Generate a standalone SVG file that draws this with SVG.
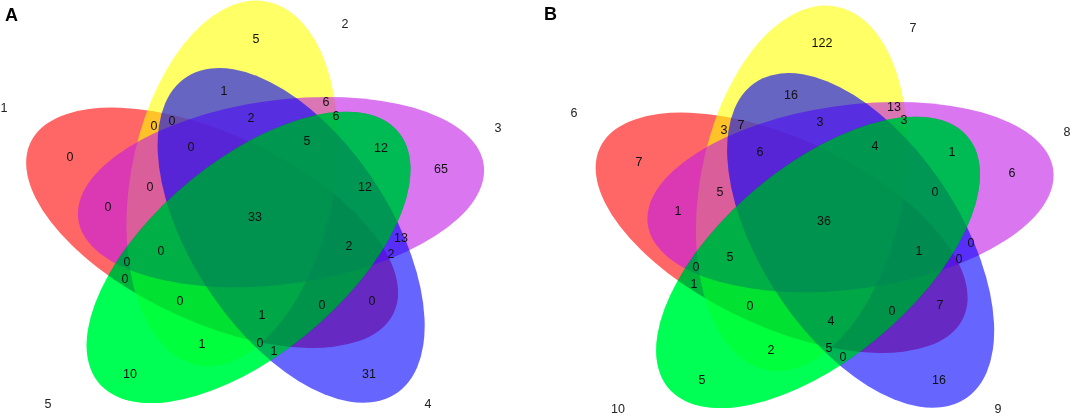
<svg xmlns="http://www.w3.org/2000/svg" width="1072" height="416" viewBox="0 0 1072 416">
<defs>
 <ellipse id="e" rx="205" ry="102"/>
</defs>
<style>
.s1{fill:#ff0000;fill-opacity:.6}
.s2{fill:#ffff00;fill-opacity:.6}
.s3{fill:#c11be6;fill-opacity:.6}
.s4{fill:#0000ff;fill-opacity:.6}
.s5m{fill:#00ff55;mix-blend-mode:multiply}
.s5{fill:#00ff55;fill-opacity:.5}
text{font-family:"Liberation Sans",Arial,sans-serif;font-size:12.5px;fill:#111;text-anchor:middle}
.lab{fill:#222}
.pan{font-size:18px;font-weight:bold;fill:#000;text-anchor:start}
</style>
<rect width="1072" height="416" fill="#fff"/>
<g id="panelA">
 <g transform="translate(253,220) scale(1,0.9)">
  <g id="A-set1"><use href="#e" class="s1" transform="rotate(-144) translate(28,-31) rotate(-7)"/></g>
  <g id="A-set2"><use href="#e" class="s2" transform="translate(0,-4.5) rotate(-72) translate(28,-31) rotate(-9)"/></g>
  <g id="A-set3"><use href="#e" class="s3" transform="translate(28,-31) rotate(-9)"/></g>
  <g id="A-set4"><use href="#e" class="s4" transform="rotate(72) translate(28,-31) rotate(-11)"/></g>
  <g id="A-set5"><use href="#e" class="s5m" transform="rotate(144) translate(28,-31) rotate(-9)"/><use href="#e" class="s5" transform="rotate(144) translate(28,-31) rotate(-9)"/></g>
 </g>
 <text class="pan" x="5" y="21">A</text>
 <g class="setlabels">
  <text class="lab" x="4" y="112">1</text>
  <text class="lab" x="345" y="28">2</text>
  <text class="lab" x="498" y="132">3</text>
  <text class="lab" x="428" y="408">4</text>
  <text class="lab" x="48" y="408">5</text>
 </g>
 <g class="counts">
  <text x="256" y="43">5</text>
  <text x="224" y="95">1</text>
  <text x="326" y="106">6</text>
  <text x="154" y="130">0</text>
  <text x="172" y="125">0</text>
  <text x="251" y="122">2</text>
  <text x="336" y="120">6</text>
  <text x="70" y="161">0</text>
  <text x="191" y="151">0</text>
  <text x="307" y="145">5</text>
  <text x="381" y="152">12</text>
  <text x="441" y="173">65</text>
  <text x="150" y="191">0</text>
  <text x="365" y="191">12</text>
  <text x="108" y="211">0</text>
  <text x="255" y="221">33</text>
  <text x="401" y="242">13</text>
  <text x="349" y="250">2</text>
  <text x="161" y="255">0</text>
  <text x="391" y="258">2</text>
  <text x="127" y="266">0</text>
  <text x="125" y="283">0</text>
  <text x="180" y="305">0</text>
  <text x="372" y="305">0</text>
  <text x="322" y="309">0</text>
  <text x="262" y="319">1</text>
  <text x="202" y="348">1</text>
  <text x="260" y="347">0</text>
  <text x="274" y="355">1</text>
  <text x="130" y="378">10</text>
  <text x="369" y="378">31</text>
 </g>
</g>
<g id="panelB">
 <g transform="translate(822.5,225) scale(1,0.9)">
  <g id="B-set1"><use href="#e" class="s1" transform="rotate(-144) translate(28,-31) rotate(-7)"/></g>
  <g id="B-set2"><use href="#e" class="s2" transform="translate(0,-4.5) rotate(-72) translate(28,-31) rotate(-9)"/></g>
  <g id="B-set3"><use href="#e" class="s3" transform="translate(28,-31) rotate(-9)"/></g>
  <g id="B-set4"><use href="#e" class="s4" transform="rotate(72) translate(28,-31) rotate(-11)"/></g>
  <g id="B-set5"><use href="#e" class="s5m" transform="rotate(144) translate(28,-31) rotate(-9)"/><use href="#e" class="s5" transform="rotate(144) translate(28,-31) rotate(-9)"/></g>
 </g>
 <text class="pan" x="544" y="20">B</text>
 <g class="setlabels">
  <text class="lab" x="574" y="117">6</text>
  <text class="lab" x="913" y="32">7</text>
  <text class="lab" x="1067" y="136">8</text>
  <text class="lab" x="998" y="413">9</text>
  <text class="lab" x="618" y="413">10</text>
 </g>
 <g class="counts">
  <text x="822" y="47">122</text>
  <text x="791" y="99">16</text>
  <text x="894" y="111">13</text>
  <text x="904" y="124">3</text>
  <text x="724" y="134">3</text>
  <text x="741" y="129">7</text>
  <text x="820" y="126">3</text>
  <text x="639" y="166">7</text>
  <text x="760" y="156">6</text>
  <text x="875" y="150">4</text>
  <text x="952" y="156">1</text>
  <text x="1012" y="177">6</text>
  <text x="720" y="196">5</text>
  <text x="935" y="196">0</text>
  <text x="678" y="215">1</text>
  <text x="824" y="225">36</text>
  <text x="730" y="261">5</text>
  <text x="919" y="255">1</text>
  <text x="971" y="247">0</text>
  <text x="959" y="263">0</text>
  <text x="696" y="271">0</text>
  <text x="694" y="288">1</text>
  <text x="750" y="310">0</text>
  <text x="940" y="309">7</text>
  <text x="892" y="315">0</text>
  <text x="831" y="325">4</text>
  <text x="771" y="354">2</text>
  <text x="829" y="352">5</text>
  <text x="843" y="361">0</text>
  <text x="702" y="384">5</text>
  <text x="939" y="384">16</text>
 </g>
</g>
</svg>
